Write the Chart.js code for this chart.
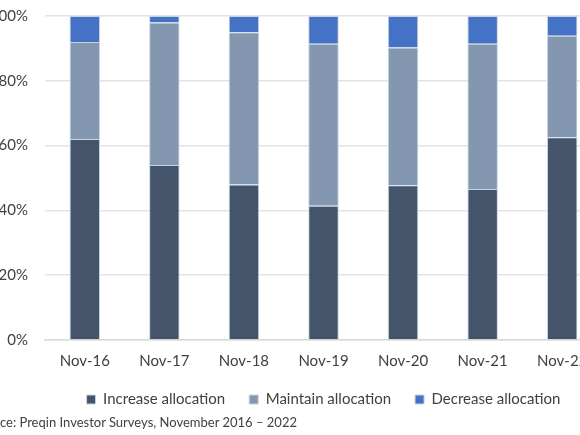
<!DOCTYPE html>
<html>
<head>
<meta charset="utf-8">
<script src="https://cdn.jsdelivr.net/npm/chart.js@4"></script>
<style>
  html, body { margin: 0; padding: 0; background: #fff; }
  body { width: 580px; height: 435px; position: relative; overflow: hidden; }
  #wrap { position: absolute; left: -20px; top: 0; width: 622px; height: 417px; }
  #source {
    position: absolute; left: -103px; top: 414px; width: 400px;
    text-align: right; white-space: nowrap;
    font-family: Lato, sans-serif; font-size: 13px; color: #404040;
  }
</style>
</head>
<body>
<div id="wrap"><canvas id="myChart"></canvas></div>
<div id="source">Source: Preqin Investor Surveys, November 2016 – 2022</div>
<script>
'use strict';

let years = ['Nov-16', 'Nov-17', 'Nov-18', 'Nov-19', 'Nov-20', 'Nov-21', 'Nov-22'];
let increaseArr = [62, 54, 48, 41.4, 47.8, 46.6, 62.6];
let maintainArr = [30, 44, 47, 50, 42.5, 44.8, 31.3];
let decreaseArr = [8, 2, 5, 8.6, 9.7, 8.6, 6.1];
let yTicks = [0, 20, 40, 60, 80, 100];

let textColor = '#404040';
let font = { family: 'Lato, sans-serif', size: 15 };

let ctx = document.getElementById('myChart').getContext('2d');
let myChart = new Chart(ctx, {
  type: 'bar',
  data: {
    labels: years,
    datasets: [{
      label: 'Increase allocation',
      data: increaseArr,
      backgroundColor: '#44546a',
      borderColor: '#c9d3e2',
      borderWidth: 1
    },
    {
      label: 'Maintain allocation',
      data: maintainArr,
      backgroundColor: '#8497b0',
      borderColor: '#c9d3e2',
      borderWidth: 1
    },
    {
      label: 'Decrease allocation',
      data: decreaseArr,
      backgroundColor: '#4472c4',
      borderColor: '#c9d3e2',
      borderWidth: 1
    }]
  },
  options: {
    responsive: true,
    maintainAspectRatio: false,
    animation: false,
    categoryPercentage: 1,
    barPercentage: 0.383,
    layout: { padding: { top: 16, right: 0, left: 0, bottom: 0 } },
    plugins: {
      legend: {
        position: 'bottom',
        fullSize: false,
        labels: {
          boxWidth: 9,
          boxHeight: 9,
          padding: 24,
          color: textColor,
          font: font
        }
      },
      tooltip: { enabled: false }
    },
    scales: {
      x: {
        stacked: true,
        grid: { display: false, drawTicks: false },
        border: { color: '#d9d9d9', width: 1.5 },
        ticks: { color: textColor, font: font, padding: 12 },
        afterFit: function (s) { s.height = 28; s.paddingLeft = 0; s.paddingRight = 0; }
      },
      y: {
        stacked: true,
        min: 0,
        max: 100,
        afterBuildTicks: function (s) { s.ticks = yTicks.map(v => ({ value: v })); },
        afterFit: function (s) { s.width = 65; s.paddingTop = 0; s.paddingBottom = 0; },
        grid: { color: '#e3e3e3', lineWidth: 1.5, drawTicks: false },
        border: { display: false },
        ticks: {
          color: textColor,
          font: font,
          padding: 17,
          callback: v => v + '%'
        }
      }
    }
  }
});
</script>
</body>
</html>
